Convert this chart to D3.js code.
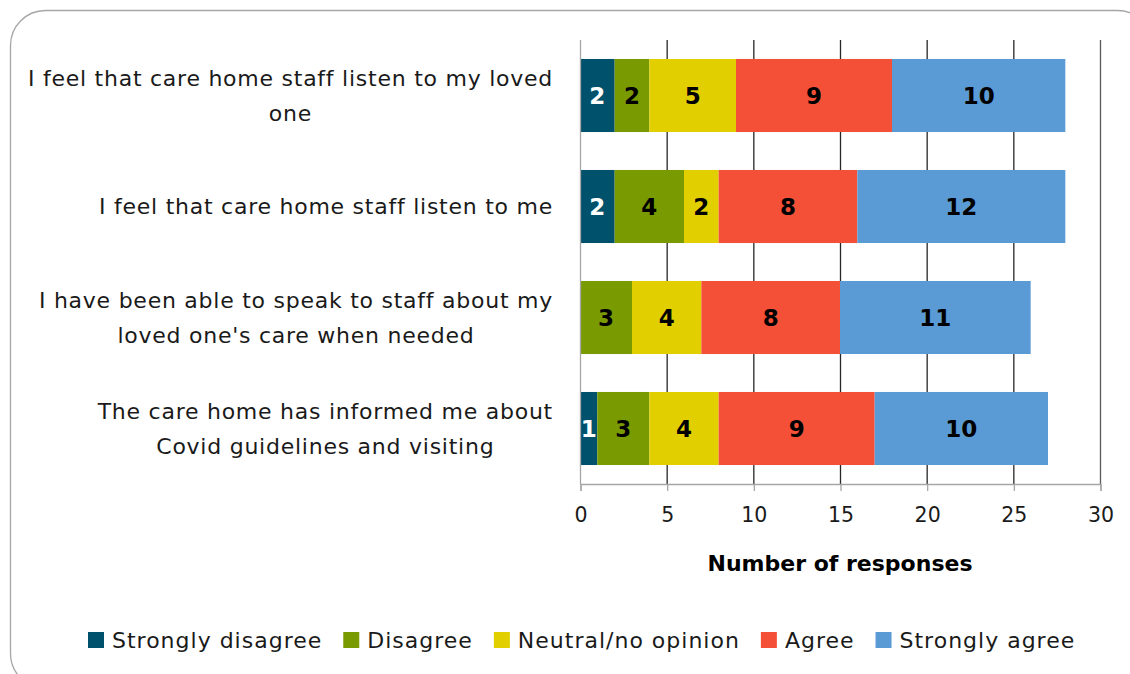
<!DOCTYPE html>
<html>
<head>
<meta charset="utf-8">
<script src="https://cdn.jsdelivr.net/npm/d3@7"></script>
<style>
  html, body { margin: 0; padding: 0; background: #fff; }
  svg { display: block; font-family: "DejaVu Sans", "Noto Sans", sans-serif; }
</style>
</head>
<body>
<svg id="chart" width="1130" height="674"></svg>
<script>
// Survey statements (top to bottom) and their wrapped label lines
const categories = [
  "I feel that care home staff listen to my loved one",
  "I feel that care home staff listen to me",
  "I have been able to speak to staff about my loved one's care when needed",
  "The care home has informed me about Covid guidelines and visiting"
];
const labelLines = [
  ["I feel that care home staff listen to my loved", "one"],
  ["I feel that care home staff listen to me"],
  ["I have been able to speak to staff about my", "loved one's care when needed"],
  ["The care home has informed me about", "Covid guidelines and visiting"]
];

// Response levels and counts per statement
const seriesNames = ["Strongly disagree", "Disagree", "Neutral/no opinion", "Agree", "Strongly agree"];
const stronglyDisagree = [2, 2, 0, 1];
const disagree         = [2, 4, 3, 3];
const neutral          = [5, 2, 4, 4];
const agree            = [9, 8, 8, 9];
const stronglyAgree    = [10, 12, 11, 10];
const seriesColors = ["#00516b", "#7a9a01", "#e2cf00", "#f45038", "#5b9bd5"];
const labelColors  = ["#ffffff", "#000000", "#000000", "#000000", "#000000"];

const xTicks = [0, 5, 10, 15, 20, 25, 30];
const xTitle = "Number of responses";

const seriesValues = [stronglyDisagree, disagree, neutral, agree, stronglyAgree];
const rows = categories.map((c, i) => {
  const r = { category: c };
  seriesNames.forEach((s, j) => { r[s] = seriesValues[j][i]; });
  return r;
});

const FONT = "\"DejaVu Sans\", \"Noto Sans\", sans-serif";
const svg = d3.select("#chart");

// Rounded card outline
svg.append("rect")
  .attr("x", 10.5).attr("y", 10.5)
  .attr("width", 1142).attr("height", 678)
  .attr("rx", 35).attr("ry", 35)
  .attr("fill", "#fff")
  .attr("stroke", "#a6a6a6").attr("stroke-width", 1.3);

const plot = { left: 580, right: 1100, top: 40, bottom: 484 };

const x = d3.scaleLinear().domain([0, 30]).range([plot.left, plot.right]);
const y = d3.scaleBand().domain(categories).range([plot.top, plot.bottom])
  .paddingInner(0.342).paddingOuter(0.171);

// Vertical gridlines
svg.append("g").selectAll("line")
  .data(xTicks.filter(t => t > 0))
  .join("line")
  .attr("x1", d => x(d) + 0.5).attr("x2", d => x(d) + 0.5)
  .attr("y1", plot.top).attr("y2", plot.bottom)
  .attr("stroke", d => d === 30 ? "#595959" : "#262626")
  .attr("stroke-width", 1.3);

// Stacked bars
const stack = d3.stack().keys(seriesNames);
const stacked = stack(rows);

const layers = svg.append("g").selectAll("g")
  .data(stacked)
  .join("g")
  .attr("fill", (d, i) => seriesColors[i]);

layers.selectAll("rect")
  .data(d => d.map(v => ({ v, key: d.key })))
  .join("rect")
  .attr("x", d => x(d.v[0]))
  .attr("y", d => y(d.v.data.category))
  .attr("width", d => x(d.v[1]) - x(d.v[0]))
  .attr("height", y.bandwidth());

// Value labels in the middle of each segment
stacked.forEach((layer, i) => {
  svg.append("g").selectAll("text")
    .data(layer.filter(v => v[1] - v[0] > 0))
    .join("text")
    .attr("x", v => (x(v[0]) + x(v[1])) / 2)
    .attr("y", v => y(v.data.category) + y.bandwidth() / 2)
    .attr("dy", "0.36em")
    .attr("text-anchor", "middle")
    .attr("font-size", 23)
    .attr("font-weight", "bold")
    .attr("fill", labelColors[i])
    .text(v => v[1] - v[0]);
});

// Axis lines (left and bottom)
svg.append("line")
  .attr("x1", plot.left + 0.5).attr("x2", plot.left + 0.5)
  .attr("y1", plot.top).attr("y2", plot.bottom)
  .attr("stroke", "#a6a6a6").attr("stroke-width", 1.3);

const xAxis = d3.axisBottom(x).tickValues(xTicks).tickSize(7).tickPadding(16).tickFormat(d3.format("d"));
const gx = svg.append("g").attr("transform", `translate(0.5,${plot.bottom})`).call(xAxis);
gx.select(".domain").attr("stroke", "#a6a6a6").attr("stroke-width", 1.3);
gx.selectAll(".tick line").attr("stroke", "#a6a6a6").attr("stroke-width", 1.3);
gx.selectAll(".tick text")
  .attr("font-size", 20.5)
  .attr("fill", "#1a1a1a")
  .attr("font-family", FONT);

svg.append("text")
  .attr("x", (plot.left + plot.right) / 2)
  .attr("y", 571)
  .attr("text-anchor", "middle")
  .attr("font-size", 22)
  .attr("font-weight", "bold")
  .attr("fill", "#000")
  .text(xTitle);

// Category labels: lines centred on each other, block right-aligned to the axis
const labelRight = 553;
const lineGap = 35;
categories.forEach((c, i) => {
  const g = svg.append("g");
  const lines = labelLines[i];
  const cy = y(c) + y.bandwidth() / 2;
  const texts = g.selectAll("text").data(lines).join("text")
    .attr("y", (d, k) => cy + (k - (lines.length - 1) / 2) * lineGap)
    .attr("dy", "0.36em")
    .attr("text-anchor", "middle")
    .attr("font-size", 22)
    .attr("letter-spacing", 0.75)
    .attr("fill", "#1a1a1a")
    .text(d => d);
  let maxW = 0;
  texts.each(function () { maxW = Math.max(maxW, this.getComputedTextLength()); });
  texts.attr("x", labelRight - maxW / 2);
});

// Legend
const legend = svg.append("g").attr("transform", "translate(0,640)");
let lx = 88;
seriesNames.forEach((s, i) => {
  legend.append("rect")
    .attr("x", lx).attr("y", -8)
    .attr("width", 16).attr("height", 16)
    .attr("fill", seriesColors[i]);
  const t = legend.append("text")
    .attr("x", lx + 24).attr("y", 0)
    .attr("dy", "0.36em")
    .attr("font-size", 22)
    .attr("letter-spacing", 1.0)
    .attr("fill", "#1a1a1a")
    .text(s);
  lx += 24 + t.node().getComputedTextLength() + 21;
});
</script>
</body>
</html>
